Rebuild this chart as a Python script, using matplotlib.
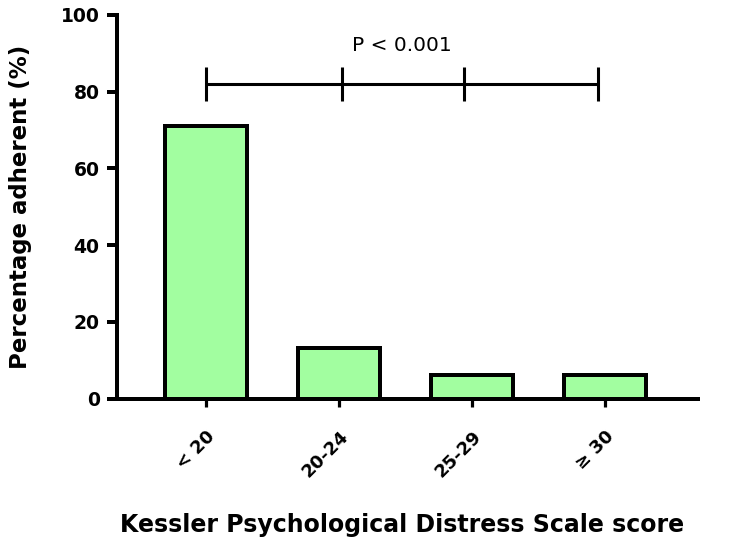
import matplotlib
matplotlib.use("Agg")
import matplotlib.pyplot as plt

# data
categories = ["< 20", "20-24", "25-29", "\u2265 30"]
adherent_pct = [71.0, 13.2, 6.2, 6.2]
yticks = [0, 20, 40, 60, 80, 100]

# significance bracket (x in bar units, y in %)
bracket_x = [0.0, 1.02, 1.94, 2.95]
bracket_y = 82.0
bracket_text = "P < 0.001"

bar_color = "#a2fea0"
lw_px = 4.0
lw = lw_px * 72 / 100

plt.rcParams["font.family"] = ["DejaVu Sans"]

fig = plt.figure(figsize=(7.29, 5.46), dpi=100)
ax = fig.add_axes([117 / 729, 1 - 398.5 / 546, (698 - 117) / 729, (398.5 - 15) / 546])

xs = list(range(len(categories)))
ax.bar(xs, adherent_pct, width=0.62, color=bar_color, edgecolor="black",
       linewidth=lw, zorder=3)

ax.set_xlim(-0.67, 3.7)
ax.set_ylim(0, 100)
ax.set_yticks(yticks)
ax.set_xticks(xs)
ax.set_xticklabels(categories, rotation=45, ha="right", va="top",
                   rotation_mode="anchor", fontsize=13, fontweight="bold")
for t in ax.get_yticklabels():
    t.set_fontsize(13.5)
    t.set_fontweight("bold")

for side in ("top", "right"):
    ax.spines[side].set_visible(False)
for side in ("left", "bottom"):
    ax.spines[side].set_linewidth(lw)
    ax.spines[side].set_capstyle("projecting")

ax.tick_params(axis="y", length=7.5, width=lw, pad=5)
ax.tick_params(axis="x", length=5.5, width=2.3, pad=15)

ax.set_ylabel("Percentage adherent (%)", fontsize=16.5, fontweight="bold")
ax.yaxis.set_label_coords(-0.147, 0.5)
ax.set_xlabel("Kessler Psychological Distress Scale score", fontsize=17,
              fontweight="bold")
ax.xaxis.set_label_coords(0.49, -0.298)

# bracket
ax.plot([bracket_x[0], bracket_x[-1]], [bracket_y, bracket_y], color="black",
        lw=2.2, solid_capstyle="butt", clip_on=False, zorder=4)
for bx in bracket_x:
    ax.plot([bx, bx], [bracket_y - 4.5, bracket_y + 4.5], color="black",
            lw=2.2, solid_capstyle="butt", clip_on=False, zorder=4)
ax.text((bracket_x[0] + bracket_x[-1]) / 2, bracket_y + 10, bracket_text,
        ha="center", va="center", fontsize=14.5)

fig.savefig("out.png", dpi=100)
